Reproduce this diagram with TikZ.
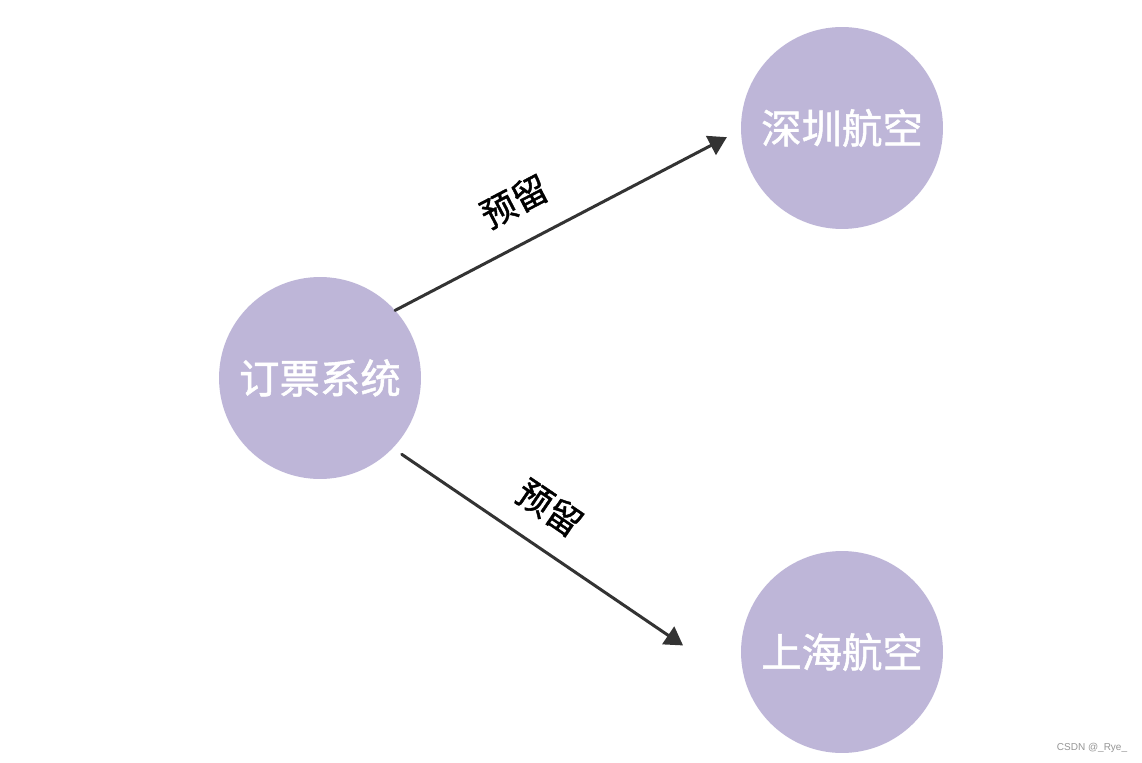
\documentclass[tikz,border=0pt]{standalone}
\usepackage{fontspec}
\newfontfamily\cjk[FakeBold=1.2]{Noto Sans CJK SC}
\setsansfont{Liberation Sans}
\usetikzlibrary{arrows.meta}
\definecolor{lav}{RGB}{190,182,216}
\definecolor{arr}{RGB}{51,51,51}
\definecolor{wmgray}{RGB}{150,150,150}
\begin{document}
\begin{tikzpicture}[x=0.02cm,y=-0.02cm,
  sysnode/.style={circle, fill=lav, draw=none, inner sep=0pt, outer sep=0pt,
    minimum size=4.04cm, text=white, font=\cjk\fontsize{23}{23}\selectfont},
  conn/.style={draw=arr, line width=0.06cm, line cap=round,
    -{Triangle[length=0.36cm,width=0.42cm]}},
  lbl/.style={sloped, inner sep=0pt, text=black, font=\cjk\fontsize{20}{20}\selectfont}]
\useasboundingbox (0,0) rectangle (1142,763);
\fill[white] (0,0) rectangle (1142,763);
\node[sysnode] (sys) at (320,378) {订票系统};
\node[sysnode] (sz) at (842,128) {深圳航空};
\node[sysnode] (sh) at (842,652) {上海航空};
\draw[conn, shorten >=0.32cm] (sys.42) -- node[lbl, pos=0.40, above=0.48cm] (l1) {预留} (sz.181.5);
\draw[conn, shorten <=0.22cm, shorten >=1.58cm] (sys.-44.6) -- node[lbl, pos=0.38, above=0.43cm] (l2) {预留} (sh.202.5);
\node[font=\sffamily\fontsize{5.7}{6}\selectfont, text=wmgray, inner sep=0pt] (wm) at (1092,748) {CSDN @\_Rye\_};
\end{tikzpicture}
\end{document}
